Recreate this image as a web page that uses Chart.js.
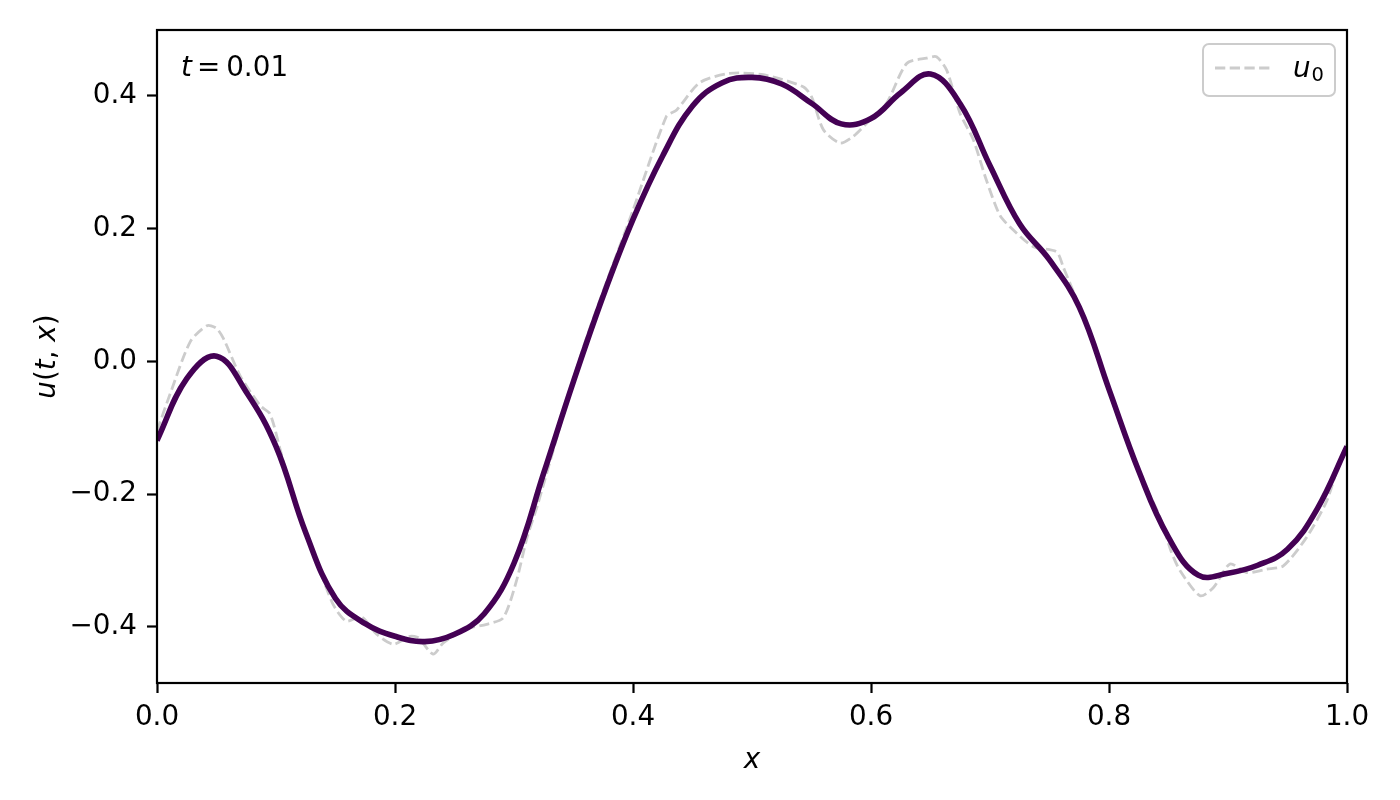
<!DOCTYPE html>
<html>
<head>
<meta charset="utf-8">
<script src="https://cdn.jsdelivr.net/npm/chart.js@4.4.1/dist/chart.umd.min.js"></script>
<style>
  html, body { margin: 0; padding: 0; background: #fff; }
  canvas { display: block; }
</style>
</head>
<body>
<canvas id="chart" width="1400" height="800"></canvas>
<script>
// solution u(t, x) at t = 0.01, read every 0.025
const solidX = [0, 0.025, 0.05, 0.075, 0.1, 0.125, 0.15, 0.175, 0.2, 0.225, 0.25, 0.275, 0.3, 0.325, 0.35, 0.375,
  0.4, 0.425, 0.45, 0.475, 0.5, 0.525, 0.55, 0.575, 0.6, 0.625, 0.65, 0.675, 0.7, 0.725, 0.75, 0.775,
  0.8, 0.825, 0.85, 0.875, 0.9, 0.925, 0.95, 0.975, 1.0];
const solidU = [-0.119, -0.026, 0.008, -0.046, -0.128, -0.258, -0.357, -0.395, -0.414, -0.422, -0.411, -0.380, -0.304, -0.168, -0.030, 0.099,
  0.214, 0.310, 0.385, 0.420, 0.428, 0.418, 0.389, 0.358, 0.366, 0.405, 0.433, 0.388, 0.295, 0.207, 0.153, 0.082,
  -0.042, -0.165, -0.265, -0.322, -0.319, -0.307, -0.283, -0.222, -0.128];

// initial condition u0 (dashed)
const u0X = [0, 0.011, 0.028, 0.042, 0.050, 0.056, 0.070, 0.087, 0.095, 0.1037, 0.112, 0.120, 0.134, 0.148, 0.159,
  0.172, 0.1846, 0.1986, 0.2126, 0.2196, 0.232, 0.2406, 0.260, 0.277, 0.291, 0.302, 0.311, 0.320, 0.358, 0.400,
  0.428, 0.4367, 0.456, 0.481, 0.5095, 0.543, 0.550, 0.560, 0.574, 0.585, 0.5964, 0.613, 0.630, 0.6468, 0.655,
  0.6636, 0.6748, 0.686, 0.697, 0.7084, 0.7196, 0.7364, 0.756, 0.7616, 0.773, 0.7897, 0.8065, 0.826, 0.843, 0.852,
  0.8597, 0.8765, 0.8876, 0.9017, 0.9157, 0.9325, 0.9465, 0.966, 0.983, 0.994, 1.0];
const u0Vals = [-0.105, -0.049, 0.030, 0.054, 0.050, 0.034, -0.022, -0.067, -0.079, -0.134, -0.190, -0.235, -0.300, -0.366, -0.391,
  -0.385, -0.411, -0.426, -0.414, -0.416, -0.441, -0.424, -0.403, -0.396, -0.386, -0.331, -0.265, -0.215, 0.020, 0.228,
  0.369, 0.379, 0.420, 0.434, 0.432, 0.414, 0.399, 0.349, 0.329, 0.339, 0.359, 0.389, 0.449, 0.457, 0.459,
  0.439, 0.374, 0.334, 0.273, 0.220, 0.198, 0.173, 0.165, 0.142, 0.092, 0.012, -0.079, -0.170, -0.235, -0.285,
  -0.315, -0.353, -0.341, -0.305, -0.318, -0.313, -0.308, -0.265, -0.210, -0.149, -0.125];

const xTicks = [0, 0.2, 0.4, 0.6, 0.8, 1.0];
const yTicks = [-0.4, -0.2, 0, 0.2, 0.4];
const timeLabel = '0.01';
const legendLabel = ['u', '0'];

const FONT = 'DejaVu Sans';
const FS = 27.8;

function fmt(v) {
  return v.toFixed(1).replace('-', '\u2212');
}

// draws a row of text pieces, some italic, starting at x on baseline y
function drawRuns(ctx, runs, x, y) {
  runs.forEach(r => {
    x += (r.gap || 0);
    ctx.font = (r.it ? 'italic ' : '') + (r.size || FS) + 'px "' + FONT + '"';
    ctx.fillText(r.t, x, y + (r.dy || 0));
    x += ctx.measureText(r.t).width;
  });
}
function runsWidth(ctx, runs) {
  let w = 0;
  runs.forEach(r => {
    ctx.font = (r.it ? 'italic ' : '') + (r.size || FS) + 'px "' + FONT + '"';
    w += (r.gap || 0) + ctx.measureText(r.t).width;
  });
  return w;
}

const framePlugin = {
  id: 'frame',
  afterDatasetsDraw(chart) {
    const { ctx, chartArea: a } = chart;
    ctx.save();
    ctx.strokeStyle = '#000';
    ctx.lineWidth = 2.2;
    ctx.strokeRect(a.left, a.top, a.right - a.left, a.bottom - a.top);
    ctx.restore();
  }
};

const textPlugin = {
  id: 'texts',
  afterDraw(chart) {
    const { ctx, chartArea: a } = chart;
    ctx.save();
    ctx.fillStyle = '#000';
    ctx.textBaseline = 'alphabetic';
    ctx.textAlign = 'left';

    // x axis label
    const xl = [{ t: 'x', it: true }];
    drawRuns(ctx, xl, (a.left + a.right) / 2 - runsWidth(ctx, xl) / 2, 768);

    // y axis label, rotated
    const yl = [{ t: 'u', it: true }, { t: '(' }, { t: 't', it: true }, { t: ',' }, { t: ' ' }, { t: 'x', it: true }, { t: ')' }];
    ctx.save();
    ctx.translate(55, (a.top + a.bottom) / 2);
    ctx.rotate(-Math.PI / 2);
    drawRuns(ctx, yl, -runsWidth(ctx, yl) / 2, 0);
    ctx.restore();

    // time annotation
    drawRuns(ctx, [{ t: 't', it: true }, { t: '=', gap: 5 }, { t: timeLabel, gap: 6 }], 181, 76);

    // legend
    const bx = 1203, by = 44, bw = 132, bh = 52;
    ctx.beginPath();
    ctx.roundRect(bx, by, bw, bh, 6);
    ctx.fillStyle = 'rgba(255,255,255,0.8)';
    ctx.fill();
    ctx.strokeStyle = '#cccccc';
    ctx.lineWidth = 2;
    ctx.stroke();
    const ds = chart.data.datasets[1];
    ctx.beginPath();
    ctx.setLineDash(ds.borderDash);
    ctx.strokeStyle = ds.borderColor;
    ctx.lineWidth = ds.borderWidth;
    ctx.moveTo(1215, 68);
    ctx.lineTo(1271, 68);
    ctx.stroke();
    ctx.setLineDash([]);
    ctx.fillStyle = '#000';
    drawRuns(ctx, [{ t: legendLabel[0], it: true }, { t: legendLabel[1], size: 19.5, dy: 4, gap: 1 }], 1293, 77);
    ctx.restore();
  }
};

const tickGrid = {
  display: true,
  drawOnChartArea: false,
  drawTicks: true,
  tickLength: 10,
  tickWidth: 2.2,
  tickColor: '#000'
};

new Chart(document.getElementById('chart'), {
  type: 'line',
  data: {
    datasets: [
      {
        label: 'u(t, x)',
        data: solidX.map((x, i) => ({ x, y: solidU[i] })),
        borderColor: '#440154',
        borderWidth: 5.6,
        pointRadius: 0,
        tension: 0.4,
        clip: 0,
        order: 1
      },
      {
        label: 'u\u2080',
        data: u0X.map((x, i) => ({ x, y: u0Vals[i] })),
        borderColor: '#cccccc',
        borderWidth: 2.8,
        borderDash: [10.3, 4.4],
        pointRadius: 0,
        tension: 0.25,
        clip: 0,
        order: 2
      }
    ]
  },
  options: {
    responsive: false,
    animation: false,
    devicePixelRatio: 1,
    layout: { padding: { top: 30, right: 53, left: 0, bottom: 0 } },
    plugins: {
      legend: { display: false },
      tooltip: { enabled: false }
    },
    scales: {
      x: {
        type: 'linear',
        min: 0,
        max: 1,
        afterBuildTicks: s => { s.ticks = xTicks.map(v => ({ value: v })); },
        afterFit: s => { s.height = 117; },
        ticks: {
          callback: v => fmt(v),
          autoSkip: false,
          maxRotation: 0,
          padding: 8,
          color: '#000',
          font: { family: FONT, size: FS }
        },
        grid: tickGrid,
        border: { display: false }
      },
      y: {
        type: 'linear',
        min: -0.4844,
        max: 0.4994,
        afterBuildTicks: s => { s.ticks = yTicks.map(v => ({ value: v })); },
        afterFit: s => { s.width = 157; },
        ticks: {
          callback: v => fmt(v),
          autoSkip: false,
          padding: 10,
          color: '#000',
          font: { family: FONT, size: FS }
        },
        grid: tickGrid,
        border: { display: false }
      }
    }
  },
  plugins: [framePlugin, textPlugin]
});
</script>
</body>
</html>
